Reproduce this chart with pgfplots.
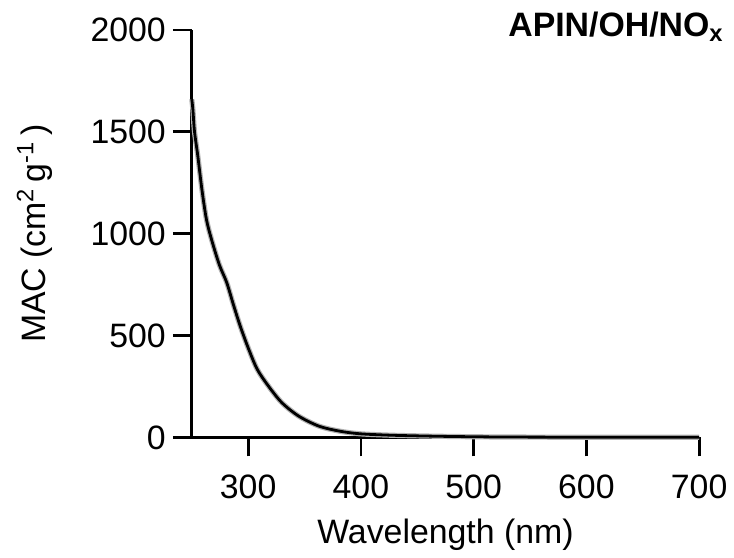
\documentclass[border=0pt]{standalone}
\usepackage{fontspec}
\setmainfont{Liberation Sans}
\usepackage{pgfplots}
\pgfplotsset{compat=1.18}

\pgfplotstableread{
x y
250 1660
251 1608
252.4 1502
255.4 1379
259 1216
263 1070
267.6 970
274.4 848
281 760
287 650
293 546
300 440
308 335
318 252
330 170
345 104
363 55
381 31
399 18
426 11
456 7
490 4
530 2
600 1
700 0.5
}\mac

\begin{document}
\begin{tikzpicture}
\begin{axis}[
    scale only axis,
    width=254bp, height=204bp,
    xmin=250, xmax=700, ymin=0, ymax=2000,
    axis x line*=bottom, axis y line*=left,
    axis line style={line width=1.4bp},
    xtick={300,400,...,700}, ytick={0,500,...,2000},
    tick align=outside,
    major tick length=9.5bp,
    tick style={line width=1.4bp, black},
    /pgf/number format/1000 sep={},
    /pgf/number format/assume math mode=true,
    font=\fontsize{17}{20}\selectfont,
    xticklabel style={yshift=-5.5bp},
    xlabel={Wavelength (nm)},
    ylabel={MAC (cm\textsuperscript{2}\,g\textsuperscript{-1}\,)},
    xlabel style={yshift=-3.5bp},
    ylabel style={yshift=12bp},
    clip=false,
]
% thin grey band round the mean
\addplot[gray!60, line width=2.6bp, mark=none, smooth] table {\mac};
\addplot[black, line width=1.4bp, mark=none, smooth] table {\mac};
\node[anchor=north east, font=\fontsize{17}{20}\selectfont\bfseries, inner sep=0pt]
  at (rel axis cs:1.049,1.045) {APIN/OH/NO\textsubscript{x}};
% blank margins as in the original figure
\path (rel axis cs:-0.378,-0.2745) rectangle (rel axis cs:1.067,1.0735);
\end{axis}
\end{tikzpicture}
\end{document}
